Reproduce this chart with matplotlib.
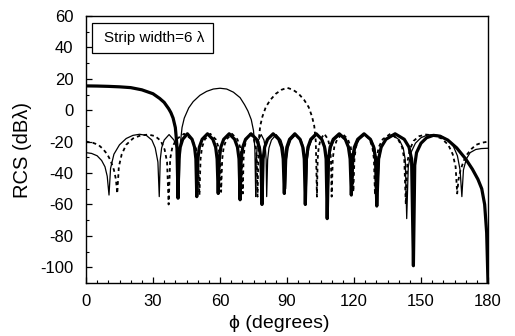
import matplotlib
matplotlib.use("Agg")
import matplotlib.pyplot as plt
from matplotlib.ticker import MultipleLocator
from matplotlib.patches import Rectangle

plt.rcParams['font.family'] = ['Liberation Sans', 'DejaVu Sans']
plt.rcParams['axes.unicode_minus'] = False

# ---- thick solid curve ----
thick_phi = [0, 5, 10, 15, 20, 25, 30, 33, 35, 37, 38, 39, 40, 40.7, 41.2,
             41.6, 42.2, 43.3, 45.4, 47.5, 48.6, 49.2, 49.6,
             50.1, 50.75, 52.0, 54.4, 56.8, 58.05, 58.7, 59.2,
             59.69, 60.38, 61.65, 64.1, 66.55, 67.82, 68.51, 69.0,
             69.49, 70.18, 71.45, 73.9, 76.35, 77.62, 78.31, 78.8,
             79.3, 80.0, 81.3, 83.8, 86.3, 87.6, 88.3, 88.8,
             89.27, 89.93, 91.15, 93.5, 95.85, 97.07, 97.73, 98.2,
             98.69, 99.38, 100.65, 103.1, 105.55, 106.82, 107.51, 108.0,
             108.54, 109.3, 110.7, 113.4, 116.1, 117.5, 118.26, 118.8,
             119.37, 120.17, 121.65, 124.5, 127.35, 128.83, 129.63, 130.2,
             131.02, 132.17, 134.3, 138.4, 142.5, 144.63, 145.78, 146.6,
             147.2, 148, 150, 152.5, 155.5, 158.5, 162, 166, 170, 173, 175.5,
             177.2, 178.5, 179.4, 180]
thick_rcs = [15.5, 15.4, 15.2, 14.9, 14.4, 13.0, 10.5, 7.5, 5.0, 1.0, -1.5, -5, -11, -22, -56,
             -31, -23.5, -18.5, -15, -18.5, -23.5, -31, -55,
             -31, -23.5, -18.5, -15, -18.5, -23.5, -31, -53,
             -31, -23.5, -18.5, -15, -18.5, -23.5, -31, -57,
             -31, -23.5, -18.5, -15, -18.5, -23.5, -31, -60,
             -31, -23.5, -18.5, -15, -18.5, -23.5, -31, -53,
             -31, -23.5, -18.5, -15, -18.5, -23.5, -31, -60,
             -31, -23.5, -18.5, -15, -18.5, -23.5, -31, -69,
             -31, -23.5, -18.5, -15, -18.5, -23.5, -31, -54,
             -31, -23.5, -18.5, -15, -18.5, -23.5, -31, -61,
             -31, -23.5, -18.5, -15, -18.5, -23.5, -31, -99,
             -35, -27, -21, -17.5, -16, -16.5, -19, -24, -31, -37.5, -44,
             -50, -60, -78, -110]

# ---- thin solid curve ----
thin_phi = [0, 2.5, 5, 7, 8.5, 9.5, 10.3,
            11, 12.5, 15, 18, 21, 24, 27, 29.5, 31, 32.2, 32.8,
            33.24, 33.86, 35.0, 37.2, 39.4, 40.54, 41.16, 41.6,
            42.2, 43, 44, 46, 48, 51, 54, 57, 60, 63, 66, 69, 71, 72.5, 74, 75, 75.6, 76,
            76.25, 76.59, 77.23, 78.45, 79.68, 80.31, 80.66, 80.9,
            81.33, 81.92, 83.03, 85.15, 87.28, 88.38, 88.98, 89.4,
            89.86, 90.5, 91.7, 94.0, 96.3, 97.5, 98.14, 98.6,
            99.09, 99.78, 101.05, 103.5, 105.95, 107.22, 107.91, 108.4,
            108.95, 109.71, 111.13, 113.85, 116.58, 117.99, 118.76, 119.3,
            119.87, 120.66, 122.13, 124.95, 127.78, 129.24, 130.04, 130.6,
            131.25, 132.16, 133.85, 137.1, 140.35, 142.04, 142.95, 143.6,
            144.3, 145.5, 147.5, 150, 153, 156, 159, 162, 164.5, 166.3, 167.5, 168.3,
            169, 170.3, 172, 174.5, 177, 180]
thin_rcs = [-27, -27.5, -29, -32, -36, -42, -54,
            -37, -28, -22, -18, -16, -15.3, -16, -19, -24, -33, -55,
            -31.5, -24, -19, -15.5, -19, -24, -31.5, -56,
            -22, -11, -5, 1.5, 5.5, 9.5, 12, 13.5, 14, 13.5, 11.5, 8, 3.5, -0.5, -6, -13, -24, -55,
            -31.5, -24, -19, -15.5, -19, -24, -31.5, -55,
            -31.5, -24, -19, -15.5, -19, -24, -31.5, -50,
            -31.5, -24, -19, -15.5, -19, -24, -31.5, -52,
            -31.5, -24, -19, -15.5, -19, -24, -31.5, -55,
            -31.5, -24, -19, -15.5, -19, -24, -31.5, -50,
            -31.5, -24, -19, -15.5, -19, -24, -31.5, -52,
            -31.5, -24, -19, -15.5, -19, -24, -31.5, -69,
            -36, -27, -21, -17.5, -15.7, -15.5, -16.5, -19, -23, -29, -38, -55,
            -38, -31, -27, -25, -24.4, -24.2]

# ---- dashed curve ----
dash_phi = [0, 3, 5.5, 7.5, 9.5, 11, 12.5, 13.4, 14,
            14.7, 16, 18, 21, 24.5, 28, 31, 33.5, 35.2, 36.3, 37,
            37.69, 38.66, 40.45, 43.9, 47.35, 49.14, 50.11, 50.8,
            51.29, 51.96, 53.23, 55.65, 58.08, 59.34, 60.02, 60.5,
            60.99, 61.66, 62.93, 65.35, 67.78, 69.04, 69.72, 70.2,
            70.53, 70.99, 71.85, 73.5, 75.15, 76.01, 76.47, 76.8,
            77.3, 78, 79, 80.5, 82.5, 85, 87.5, 90.1, 92.7, 95.2, 97.7, 99.7, 101.2, 102.2, 102.9, 103.4,
            103.73, 104.19, 105.05, 106.7, 108.35, 109.21, 109.67, 110.0,
            110.49, 111.16, 112.43, 114.85, 117.28, 118.54, 119.22, 119.7,
            120.19, 120.86, 122.13, 124.55, 126.98, 128.24, 128.92, 129.4,
            130.09, 131.06, 132.85, 136.3, 139.75, 141.54, 142.51, 143.2,
            143.9, 145, 146.7, 149.2, 152.2, 155.7, 159.2, 162.2, 164.2, 165.5, 166.2,
            166.8, 167.7, 169.2, 170.7, 172.7, 174.7, 177.2, 180]
dash_rcs = [-20, -20.7, -22, -24.5, -28, -32, -38, -44, -53,
            -36, -28, -22, -18, -16, -15.5, -16.5, -19.5, -25, -33, -60,
            -31, -23.5, -18.5, -15, -18.5, -23.5, -31, -54,
            -31, -23.5, -18.5, -15, -18.5, -23.5, -31, -52,
            -31, -23.5, -18.5, -15, -18.5, -23.5, -31, -53,
            -31, -23.5, -18.5, -15, -18.5, -23.5, -31, -55,
            -20, -10, -4, 2, 6.5, 10.5, 13, 14.3, 13, 10.5, 6.5, 2, -4, -10, -20, -55,
            -31, -23.5, -18.5, -15, -18.5, -23.5, -31, -55,
            -31, -23.5, -18.5, -15, -18.5, -23.5, -31, -52,
            -31, -23.5, -18.5, -15, -18.5, -23.5, -31, -54,
            -31, -23.5, -18.5, -15, -18.5, -23.5, -31, -60,
            -33, -25, -19.5, -16.5, -15.5, -16, -18, -22, -28, -36, -53,
            -44, -38, -32, -28, -24.5, -22, -20.7, -20]

x_ticks = [0, 30, 60, 90, 120, 150, 180]
y_ticks = [60, 40, 20, 0, -20, -40, -60, -80, -100]
box_text = "Strip width=6 \u03bb"

fig = plt.figure(figsize=(5.15, 3.36), dpi=100)
ax = fig.add_axes([86/515, 1-283/336, (488-86)/515, (283-16)/336])

ax.plot(dash_phi, dash_rcs, color='black', lw=1.3, linestyle=(0, (2.0, 1.8)))
ax.plot(thin_phi, thin_rcs, color='black', lw=0.9)
ax.plot(thick_phi, thick_rcs, color='black', lw=2.3)

ax.set_xlim(0, 180)
ax.set_ylim(-110, 60)
ax.set_xticks(x_ticks)
ax.set_yticks(y_ticks)
ax.xaxis.set_minor_locator(MultipleLocator(5))
ax.yaxis.set_minor_locator(MultipleLocator(10))
ax.tick_params(which='both', direction='in', labelsize=12, top=False, right=False)
ax.tick_params(which='major', length=4, width=0.9)
ax.tick_params(which='minor', length=2.5, width=0.8)
ax.tick_params(axis='x', pad=8)
ax.tick_params(axis='y', pad=9)
for s in ax.spines.values():
    s.set_linewidth(1.0)

ax.set_ylabel("RCS (dB\u03bb)", fontsize=14.5)
ax.set_xlabel("\u03d5 (degrees)", fontsize=14)
ax.yaxis.set_label_coords(-0.134, 0.5)
ax.xaxis.set_label_coords(0.48, -0.118)

ax.add_patch(Rectangle((0.015, 0.861), 0.301, 0.113, transform=ax.transAxes,
                       fc='white', ec='black', lw=0.9, zorder=5))
ax.text(0.045, 0.918, box_text, transform=ax.transAxes, fontsize=11,
        va='center', ha='left', zorder=6)

fig.savefig("out.png", dpi=100)
